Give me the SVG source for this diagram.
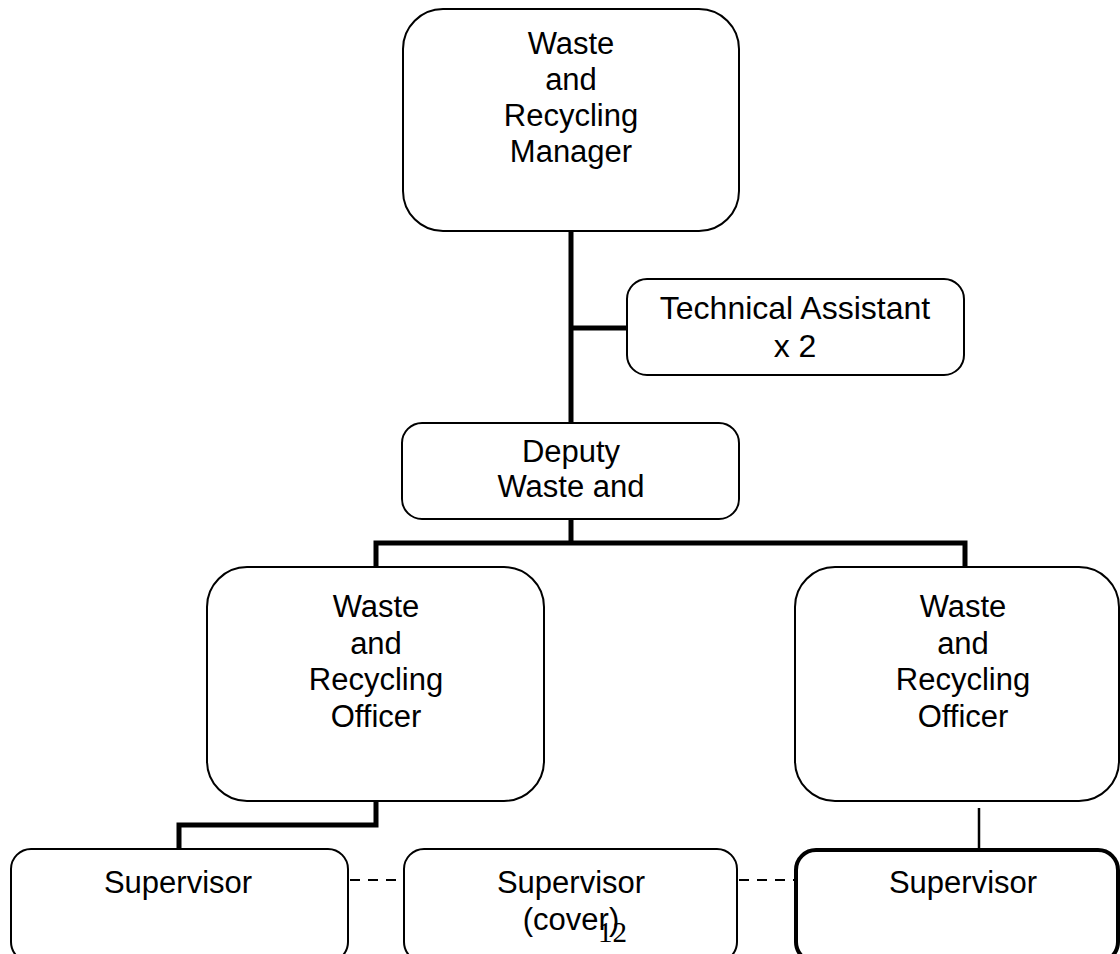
<svg xmlns="http://www.w3.org/2000/svg" width="1120" height="954" viewBox="0 0 1120 954">
  <style>
    .box { fill: #ffffff; stroke: #000000; stroke-width: 2; }
    .box-bold { fill: #ffffff; stroke: #000000; stroke-width: 4; }
    .lbl { font-family: "Liberation Sans", Arial, sans-serif; font-size: 31px; fill: #000000; text-anchor: middle; }
    .lbl-lg { font-size: 32px; }
    .link { fill: none; stroke: #000000; stroke-width: 5; stroke-linejoin: miter; stroke-linecap: butt; }
    .thin { fill: none; stroke: #000000; stroke-width: 2.5; }
    .dash { fill: none; stroke: #000000; stroke-width: 2; stroke-dasharray: 10 8; }
    .pageno { font-family: "Liberation Serif", "Times New Roman", serif; font-size: 29px; fill: #000000; }
  </style>
  <rect width="1120" height="954" fill="#ffffff"/>

  <!-- reporting lines -->
  <g id="connectors">
    <path class="link" d="M571,231 V423"/>
    <path class="link" d="M571,328 H627"/>
    <path class="link" d="M571,519 V543"/>
    <path class="link" d="M376,567 V543 H965 V567"/>
    <path class="link" d="M376,801 V825 H179 V849"/>
    <path class="thin" d="M979,808 V855"/>
    <path class="dash" d="M350,880 H404"/>
    <path class="dash" d="M739,880 H795"/>
  </g>

  <g id="manager">
    <rect class="box" x="403" y="9" width="336" height="222" rx="40"/>
    <text class="lbl" x="571" y="54">Waste</text>
    <text class="lbl" x="571" y="90">and</text>
    <text class="lbl" x="571" y="126">Recycling</text>
    <text class="lbl" x="571" y="162">Manager</text>
  </g>

  <g id="technical-assistant">
    <rect class="box" x="627" y="279" width="337" height="96" rx="20"/>
    <text class="lbl lbl-lg" x="795" y="319">Technical Assistant</text>
    <text class="lbl lbl-lg" x="795" y="357">x 2</text>
  </g>

  <g id="deputy">
    <rect class="box" x="402" y="423" width="337" height="96" rx="20"/>
    <text class="lbl" x="571" y="462">Deputy</text>
    <text class="lbl" x="571" y="497">Waste and</text>
  </g>

  <g id="officer-left">
    <rect class="box" x="207" y="567" width="337" height="234" rx="40"/>
    <text class="lbl" x="376" y="617">Waste</text>
    <text class="lbl" x="376" y="654">and</text>
    <text class="lbl" x="376" y="690">Recycling</text>
    <text class="lbl" x="376" y="727">Officer</text>
  </g>

  <g id="officer-right">
    <rect class="box" x="795" y="567" width="324" height="234" rx="40"/>
    <text class="lbl" x="963" y="617">Waste</text>
    <text class="lbl" x="963" y="654">and</text>
    <text class="lbl" x="963" y="690">Recycling</text>
    <text class="lbl" x="963" y="727">Officer</text>
  </g>

  <g id="supervisor-left">
    <rect class="box" x="11" y="849" width="337" height="113" rx="20"/>
    <text class="lbl" x="178" y="893">Supervisor</text>
  </g>

  <g id="supervisor-cover">
    <rect class="box" x="404" y="849" width="333" height="113" rx="20"/>
    <text class="lbl" x="571" y="893">Supervisor</text>
    <text class="lbl" x="571" y="930">(cover)</text>
  </g>

  <g id="supervisor-right">
    <rect class="box-bold" x="796" y="850" width="322" height="112" rx="20"/>
    <text class="lbl" x="963" y="893">Supervisor</text>
  </g>

  <!-- page number -->
  <text class="pageno" x="598" y="942">12</text>
</svg>
